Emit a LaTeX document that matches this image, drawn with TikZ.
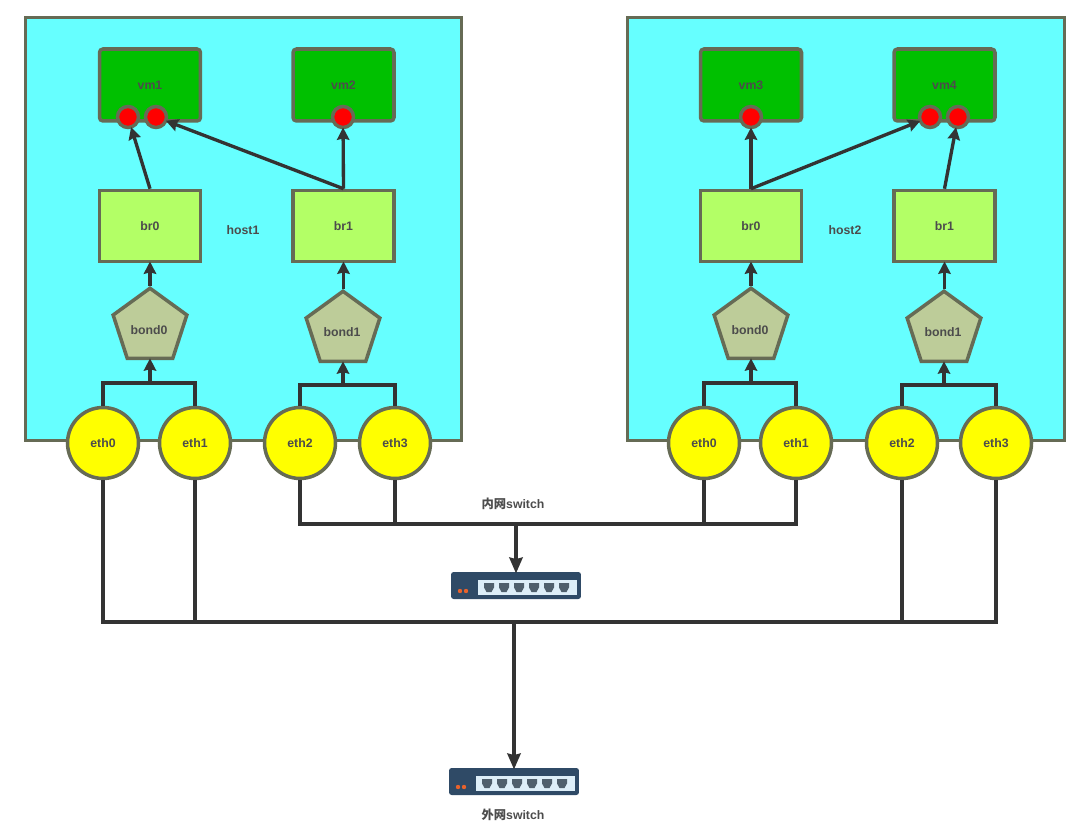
\documentclass[tikz,border=0pt]{standalone}
\usepackage{fontspec}
\setmainfont{Liberation Sans}
\newfontfamily\cjkfont{Noto Sans CJK SC}
\usetikzlibrary{shapes.geometric,arrows.meta}
\definecolor{edgegray}{HTML}{666B55}
\definecolor{linegray}{HTML}{333333}
\definecolor{hostcyan}{HTML}{66FFFF}
\definecolor{vmgreen}{HTML}{00C000}
\definecolor{brgreen}{HTML}{B3FF66}
\definecolor{bondtan}{HTML}{BDCC99}
\definecolor{ethyellow}{HTML}{FFFF00}
\definecolor{portred}{HTML}{FF0000}
\definecolor{swblue}{HTML}{2F4A66}
\definecolor{swpanel}{HTML}{DDEEF8}
\definecolor{swgray}{HTML}{4F5F6C}
\definecolor{swled}{HTML}{E8622C}

\begin{document}
\begin{tikzpicture}[x=0.02cm,y=-0.02cm,
  every node/.style={font=\bfseries\fontsize{7}{8}\selectfont,text=black!70},
  host/.style={rectangle,draw=edgegray,fill=hostcyan,line width=1.7pt,minimum width=8.74cm,minimum height=8.48cm},
  vm/.style={rectangle,rounded corners=2pt,draw=edgegray,fill=vmgreen,line width=2pt,minimum width=2.02cm,minimum height=1.44cm},
  port/.style={circle,draw=edgegray,fill=portred,line width=2pt,minimum size=0.42cm,inner sep=0pt},
  bridge/.style={rectangle,draw=edgegray,fill=brgreen,line width=2pt,minimum width=2.02cm,minimum height=1.42cm},
  bond/.style={regular polygon,regular polygon sides=5,draw=edgegray,fill=bondtan,line width=2pt,minimum size=1.55cm,inner sep=0pt},
  eth/.style={circle,draw=edgegray,fill=ethyellow,line width=2pt,minimum size=1.42cm,inner sep=0pt},
  label/.style={font=\bfseries\fontsize{7}{8}\selectfont},
  wire/.style={draw=linegray,line width=1.9pt},
  link/.style={wire,-{Stealth[length=7pt,width=7pt,inset=0.8pt]},shorten >=-1pt},
  biglink/.style={wire,-{Stealth[length=9pt,width=7.5pt,inset=0.8pt]},shorten >=-1pt},
  netswitch/.pic={
    \node[rectangle,rounded corners=1.5pt,fill=swblue,minimum width=2.6cm,minimum height=0.54cm,inner sep=0pt] (body) at (0,0) {};
    \fill[swpanel] (-38,-5.5) rectangle (61,9.5);
    \foreach \px in {-27,-12,3,18,33,48}
      \fill[swgray] (\px-5,-2.5) -- (\px+5,-2.5) -- (\px+5,2) -- (\px+2.5,6.5) -- (\px-2.5,6.5) -- (\px-5,2) -- cycle;
    \foreach \px in {-56,-50}
      \fill[swled] (\px,5.5) circle (2.2);
  }]

\useasboundingbox (0,0) rectangle (1082,824);

% hosts
\draw (243.5,229) node[host] (host1) {}
      (846,229) node[host] (host2) {};
\draw (243,230) node[label] (host1label) {host1}
      (845,230) node[label] (host2label) {host2};

% left host
\draw (150,85) node[vm] (vm1) {vm1}
      (343.5,85) node[vm] (vm2) {vm2}
      (150,226) node[bridge] (br01) {br0}
      (343.5,226) node[bridge] (br11) {br1};
\draw (128,117) node[port] (vm1a) {}
      (156,117) node[port] (vm1b) {}
      (343,117) node[port] (vm2a) {};
\draw (150,327) node[bond] (bond01) {}
      (343,330) node[bond] (bond11) {}
      (149,330) node[label] (bond01label) {bond0}
      (342,332) node[label] (bond11label) {bond1};
\draw (103,443) node[eth] (eth01) {eth0}
      (195,443) node[eth] (eth11) {eth1}
      (300,443) node[eth] (eth21) {eth2}
      (395,443) node[eth] (eth31) {eth3};

% right host
\draw (751,85) node[vm] (vm3) {vm3}
      (944.5,85) node[vm] (vm4) {vm4}
      (751,226) node[bridge] (br02) {br0}
      (944.5,226) node[bridge] (br12) {br1};
\draw (751,117) node[port] (vm3a) {}
      (930,117) node[port] (vm4a) {}
      (958,117) node[port] (vm4b) {};
\draw (751,327) node[bond] (bond02) {}
      (944,330) node[bond] (bond12) {}
      (750,330) node[label] (bond02label) {bond0}
      (943,332) node[label] (bond12label) {bond1};
\draw (704,443) node[eth] (eth02) {eth0}
      (796,443) node[eth] (eth12) {eth1}
      (902,443) node[eth] (eth22) {eth2}
      (996,443) node[eth] (eth32) {eth3};

% switches
\pic (swin) at (516,585.5) {netswitch};
\pic (swout) at (514,781.5) {netswitch};
\draw (513,504) node[label] (swinlabel) {{\cjkfont 内网}switch}
      (513,815) node[label] (swoutlabel) {{\cjkfont 外网}switch};

% vm links
\draw[link] (br01.north) -- (vm1a);
\draw[link] (br11.north) -- (vm1b);
\draw[link] (br11.north) -- (vm2a);
\draw[link] (br02.north) -- (vm3a);
\draw[link] (br02.north) -- (vm4a);
\draw[link] (br12.north) -- (vm4b);

% bond links
\coordinate (join01) at (150,383);
\coordinate (join11) at (343,385);
\coordinate (join02) at (751,383);
\coordinate (join12) at (944,385);
\draw[link] (br01 |- bond01.north) -- (br01.south);
\draw[link] (br11 |- bond11.north) -- (br11.south);
\draw[link] (br02 |- bond02.north) -- (br02.south);
\draw[link] (br12 |- bond12.north) -- (br12.south);
\draw[wire] (eth01.north) |- (join01) -| (eth11.north);
\draw[wire] (eth21.north) |- (join11) -| (eth31.north);
\draw[wire] (eth02.north) |- (join02) -| (eth12.north);
\draw[wire] (eth22.north) |- (join12) -| (eth32.north);
\draw[link] (join01) -- (bond01);
\draw[link] (join11) -- (bond11);
\draw[link] (join02) -- (bond02);
\draw[link] (join12) -- (bond12);

% inner switch
\coordinate (busin) at (516,524);
\draw[wire] (eth21.south) |- (busin) -| (eth12.south);
\draw[wire] (eth31.south) |- (busin);
\draw[wire] (eth02.south) |- (busin);
\draw[biglink] (busin) -- (swinbody.north);

% outer switch
\coordinate (busout) at (514,622);
\draw[wire] (eth01.south) |- (busout) -| (eth32.south);
\draw[wire] (eth11.south) |- (busout);
\draw[wire] (eth22.south) |- (busout);
\draw[biglink] (busout) -- (swoutbody.north);
\end{tikzpicture}
\end{document}
